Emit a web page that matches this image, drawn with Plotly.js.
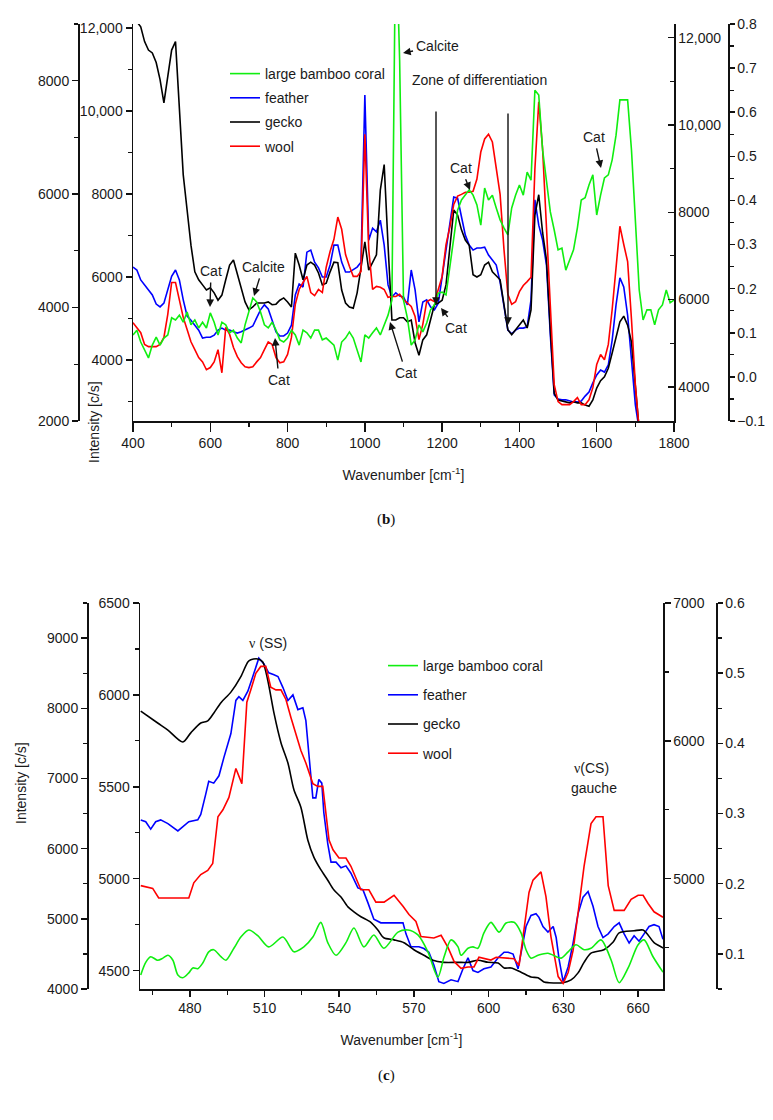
<!DOCTYPE html>
<html>
<head>
<meta charset="utf-8">
<script src="https://cdn.plot.ly/plotly-3.0.1.min.js"></script>
<style>
  body { margin: 0; background: #fff; }
  #chart { width: 773px; height: 1120px; }
</style>
</head>
<body>
<div id="chart"></div>
<script>
// panel (b): full range spectra, one shared wavenumber grid
const wavenumberB = [
  400, 410, 420, 430, 440, 450, 460, 470, 480, 490, 500, 510, 520, 530, 540, 550, 560, 570, 580, 590,
  600, 610, 620, 630, 640, 650, 660, 670, 680, 690, 700, 710, 720, 730, 740, 750, 760, 770, 780, 790,
  800, 810, 820, 830, 840, 850, 860, 870, 880, 890, 900, 910, 920, 930, 940, 950, 960, 970, 980, 990,
  1000, 1010, 1020, 1030, 1040, 1050, 1060, 1070, 1080, 1090, 1100, 1110, 1120, 1130, 1140, 1150, 1160, 1170, 1180, 1190,
  1200, 1210, 1220, 1230, 1240, 1250, 1260, 1270, 1280, 1290, 1300, 1310, 1320, 1330, 1340, 1350, 1360, 1370, 1380, 1390,
  1400, 1410, 1420, 1430, 1440, 1450, 1460, 1470, 1480, 1490, 1500, 1510, 1520, 1530, 1540, 1550, 1560, 1570, 1580, 1590,
  1600, 1610, 1620, 1630, 1640, 1650, 1660, 1670, 1680, 1690, 1700, 1710, 1720, 1730, 1740, 1750, 1760, 1770, 1780, 1790,
  1800
];

const coralB = [
  0.095, 0.106, 0.079, 0.061, 0.043, 0.072, 0.090, 0.072, 0.088, 0.095, 0.134, 0.129, 0.140, 0.124, 0.147, 0.118, 0.129, 0.111, 0.124, 0.111,
  0.145, 0.124, 0.095, 0.124, 0.118, 0.100, 0.106, 0.088, 0.077, 0.118, 0.147, 0.179, 0.170, 0.147, 0.118, 0.111, 0.124, 0.106, 0.084, 0.079,
  0.088, 0.106, 0.095, 0.072, 0.106, 0.100, 0.088, 0.106, 0.106, 0.084, 0.088, 0.079, 0.072, 0.038, 0.079, 0.088, 0.102, 0.088, 0.061, 0.034,
  0.095, 0.088, 0.100, 0.111, 0.095, 0.118, 0.140, 0.174, 1.036, 0.718, 0.174, 0.134, 0.072, 0.084, 0.118, 0.102, 0.122, 0.152, 0.163, 0.190,
  0.192, 0.186, 0.254, 0.322, 0.378, 0.401, 0.412, 0.424, 0.412, 0.390, 0.344, 0.428, 0.401, 0.412, 0.383, 0.356, 0.338, 0.322, 0.383, 0.412,
  0.435, 0.412, 0.464, 0.446, 0.650, 0.639, 0.514, 0.446, 0.374, 0.333, 0.288, 0.292, 0.242, 0.265, 0.288, 0.338, 0.401, 0.406, 0.435, 0.458,
  0.367, 0.412, 0.451, 0.458, 0.492, 0.548, 0.628, 0.628, 0.628, 0.514, 0.344, 0.197, 0.129, 0.152, 0.152, 0.118, 0.152, 0.163, 0.197, 0.168,
  0.174
];

const featherB = [
  6240, 6170, 5930, 5810, 5690, 5570, 5350, 5280, 5370, 5690, 6020, 6170, 5930, 5450, 5060, 4960, 4840, 4720, 4530, 4550,
  4550, 4600, 4720, 4770, 4720, 4720, 4680, 4650, 4680, 4720, 4770, 4820, 5010, 5210, 5330, 5230, 4960, 4680, 4580, 4580,
  4650, 4840, 5570, 5830, 5760, 6600, 6650, 6360, 6220, 6000, 6000, 6290, 6770, 6770, 6360, 6120, 6120, 6170, 6240, 6360,
  10390, 6890, 7180, 7090, 7370, 6770, 5810, 5520, 5620, 5540, 5520, 5330, 6170, 5690, 4920, 5400, 5450, 5280, 5210, 5370,
  6000, 6650, 7250, 7930, 7900, 7490, 7010, 6770, 6650, 6700, 6700, 6720, 6530, 6410, 6290, 5880, 5330, 4720, 4630, 4720,
  4770, 4770, 4800, 5450, 7860, 7250, 6890, 6290, 4600, 3160, 3060, 3040, 3040, 3010, 2990, 2990, 3010, 3130, 3230, 3450,
  3640, 3760, 3710, 3880, 4480, 5330, 5980, 5760, 5080, 4000, 2920, 2310
];

const geckoB = [
  9250, 9040, 8950, 8690, 8540, 8490, 8320, 8020, 7610, 8100, 8540, 8690, 7400, 6340, 5720, 5100, 4630, 4490, 4400, 4310,
  4350, 4260, 4130, 4220, 4490, 4750, 4840, 4580, 4310, 4100, 3960, 4010, 4080, 4080, 4080, 4100, 4050, 4060, 4130, 4170,
  4100, 4010, 4960, 4750, 4490, 4750, 4800, 4750, 4610, 4400, 4430, 4630, 4800, 4790, 4310, 4080, 4010, 3990, 4260, 4700,
  5160, 4660, 4800, 4930, 6070, 6520, 5100, 3780, 3780, 3820, 3820, 3750, 3780, 3380, 3160, 3430, 3520, 3780, 4050, 4080,
  4130, 4400, 5100, 5720, 5630, 5370, 5190, 5100, 4580, 4540, 4580, 4750, 4800, 4630, 4560, 4490, 4050, 3610, 3520, 3610,
  3680, 3780, 3640, 3960, 5630, 5990, 5320, 4840, 3610, 2490, 2370, 2350, 2340, 2320, 2340, 2320, 2320, 2280, 2260, 2370,
  2580, 2710, 2780, 2930, 3200, 3460, 3750, 3850, 3690, 3390, 2640, 1840
];

const woolB = [
  5470, 5360, 5240, 4970, 4920, 4920, 4920, 4970, 5130, 5660, 6390, 6390, 6000, 5590, 5310, 5030, 4850, 4670, 4570, 4390,
  4440, 4570, 4850, 4320, 5360, 5200, 4900, 4690, 4550, 4460, 4440, 4460, 4570, 4670, 4850, 5030, 4970, 4670, 4550, 4570,
  4740, 5130, 5890, 6230, 6390, 6530, 6160, 6090, 6230, 6160, 6740, 7100, 7380, 7890, 7610, 7030, 6760, 6530, 6530, 6640,
  9790, 7150, 6230, 6300, 6280, 6230, 6050, 6070, 6070, 6120, 6000, 5930, 5840, 5610, 5080, 5430, 5950, 6000, 5950, 6230,
  6530, 7260, 7660, 8180, 8370, 8410, 8460, 8460, 8480, 8760, 9380, 9680, 9790, 9610, 9030, 8410, 7150, 6120, 5890, 5950,
  6180, 6320, 6410, 6510, 8990, 10530, 9450, 7720, 6000, 4050, 3660, 3590, 3590, 3590, 3660, 3750, 3590, 3590, 3700, 3980,
  4510, 4740, 4620, 4970, 5770, 6690, 7680, 7260, 6870, 5540, 4050, 3010
];

// panel (c): zoom on the 460-670 region, points read at peaks and valleys
const coralWnC = [
  460.3, 462.3, 464.3, 467.1, 469.2, 471.2, 473.2, 475.2, 477.2, 479.6, 481.2, 483.2, 485.2, 487.6, 489.6, 492.5, 494.5, 497.7, 500.5, 503.7,
  507.3, 511.7, 517.4, 521.8, 525.8, 529.4, 532.6, 535.4, 538.7, 542.7, 545.9, 549.9, 553.9, 557.9, 563.6, 567.6, 571.6, 575.6, 579.6, 582.1,
  584.9, 587.7, 588.9, 591.7, 593.7, 595.7, 598.1, 600.9, 604.2, 607, 610.2, 613, 615, 617, 619.8, 623.8, 629.1, 631.9, 635.1, 638.3,
  641.1, 645.1, 649.2, 652.4, 656, 660, 662.4, 666, 670
];
const coralC = [
  0.070, 0.088, 0.096, 0.091, 0.094, 0.098, 0.091, 0.070, 0.066, 0.073, 0.080, 0.079, 0.087, 0.103, 0.106, 0.096, 0.091, 0.108, 0.124, 0.134,
  0.126, 0.110, 0.124, 0.103, 0.110, 0.124, 0.145, 0.116, 0.098, 0.116, 0.137, 0.110, 0.127, 0.108, 0.131, 0.134, 0.127, 0.103, 0.067, 0.096,
  0.120, 0.110, 0.098, 0.108, 0.110, 0.108, 0.130, 0.145, 0.131, 0.144, 0.145, 0.130, 0.106, 0.094, 0.098, 0.101, 0.094, 0.103, 0.113, 0.106,
  0.108, 0.120, 0.091, 0.059, 0.080, 0.113, 0.120, 0.096, 0.074
];

const featherWnC = [
  460.3, 462.3, 464.3, 466.3, 468.3, 471.2, 475.2, 477.6, 479.6, 483.2, 484.4, 486.4, 487.6, 489.6, 491.7, 493.7, 496.5, 498.5, 499.7, 501.3,
  503.3, 505.3, 507.7, 509.7, 511.7, 513.8, 515.4, 517.4, 519.4, 521.4, 523.4, 525.4, 526.6, 527.8, 529.4, 530.6, 531.8, 533, 533.8, 535.4,
  536.7, 538.7, 540.7, 542.7, 544.7, 547.5, 549.5, 551.5, 553.9, 556.7, 560.8, 565.6, 566.8, 568.8, 572, 574, 576, 578, 580, 582,
  584.9, 587.7, 589.7, 591.7, 593.7, 595.7, 598.1, 600.9, 603.8, 606.2, 607.8, 609.8, 611.8, 613, 615, 617, 619, 620.2, 621.8, 623.8,
  625.9, 627.1, 628.3, 629.9, 631.9, 633.9, 635.9, 637.9, 639.9, 641.9, 643.9, 645.9, 648, 650.4, 652.4, 654.4, 656.4, 658.4, 660.4, 662.4,
  664.4, 666.4, 668.4, 670
];
const featherC = [
  5320, 5310, 5270, 5310, 5320, 5300, 5260, 5290, 5310, 5320, 5350, 5460, 5530, 5520, 5560, 5660, 5790, 5970, 5990, 5970,
  6020, 6100, 6200, 6170, 6120, 6110, 6100, 6040, 5970, 6000, 5920, 5930, 5860, 5680, 5440, 5440, 5540, 5520, 5360, 5190,
  5090, 5090, 5060, 5070, 5030, 4950, 4940, 4870, 4780, 4760, 4760, 4760, 4700, 4630, 4630, 4620, 4600, 4530, 4440, 4430,
  4450, 4440, 4510, 4570, 4500, 4490, 4510, 4520, 4570, 4600, 4600, 4590, 4510, 4590, 4740, 4800, 4810, 4790, 4740, 4710,
  4740, 4680, 4560, 4440, 4520, 4650, 4810, 4900, 4930, 4850, 4740, 4680, 4700, 4740, 4760, 4700, 4650, 4690, 4660, 4700,
  4740, 4750, 4740, 4670
];

const geckoWnC = [
  460.3, 467.1, 471.2, 477.2, 480.4, 484.4, 487.2, 489.6, 492.5, 496.5, 500.5, 503.3, 504.5, 507.7, 509.3, 511.3, 513.8, 516.6, 519.4, 521.8,
  524.6, 527.4, 529.8, 532.6, 535.4, 537.9, 540.7, 543.5, 545.9, 548.7, 552.7, 555.5, 557.9, 562, 566, 570, 574, 577.6, 582, 587.7,
  591.7, 595.7, 599.7, 603.8, 606.2, 609, 613, 617, 619.8, 622.2, 624.2, 629.9, 633.1, 635.9, 638.3, 641.1, 646.3, 650, 652.4, 658.4,
  662, 664, 666.4, 670.4
];
const geckoC = [
  7960, 7790, 7690, 7520, 7650, 7790, 7820, 7930, 8080, 8230, 8450, 8660, 8690, 8700, 8660, 8400, 7930, 7510, 7220, 6840,
  6590, 6120, 5880, 5700, 5550, 5410, 5310, 5170, 5100, 5030, 4950, 4840, 4730, 4700, 4660, 4560, 4480, 4410, 4380, 4380,
  4380, 4410, 4380, 4370, 4300, 4300, 4240, 4170, 4160, 4100, 4090, 4090, 4130, 4230, 4380, 4510, 4560, 4670, 4800, 4830,
  4840, 4770, 4660, 4580
];

const woolWnC = [
  460.3, 462.3, 465.1, 467.5, 471.2, 479.6, 481.6, 484.4, 487.2, 489.2, 491.3, 493.3, 495.7, 498.5, 500.9, 502.9, 504.5, 506.5, 508.5, 510.5,
  512.5, 514.6, 516.6, 518.6, 520.6, 523.4, 524.6, 526.6, 529.4, 531.4, 533.4, 535.9, 537.5, 539.9, 542.7, 544.7, 548.7, 551.9, 554.7, 558,
  562, 565.6, 568, 570.8, 572.8, 578, 580.9, 583.7, 586.1, 588.9, 591.7, 594.1, 596.1, 600.9, 603, 610.2, 612.2, 613.8, 616.2, 617.8,
  619.8, 621, 623, 625, 627.9, 629.9, 631.9, 633.9, 635.9, 638.3, 641.1, 643.1, 645.9, 648, 650.4, 654.4, 657.2, 660, 662, 664,
  666.4, 670
];
const woolC = [
  4950, 4940, 4930, 4860, 4860, 4860, 4970, 5030, 5060, 5110, 5450, 5500, 5590, 5800, 5690, 6280, 6370, 6490, 6540, 6540,
  6390, 6370, 6370, 6300, 6170, 6010, 5930, 5840, 5690, 5670, 5670, 5280, 5210, 5150, 5150, 5090, 4920, 4920, 4830, 4830,
  4880, 4800, 4740, 4690, 4580, 4570, 4590, 4500, 4400, 4350, 4360, 4360, 4430, 4410, 4430, 4420, 4370, 4580, 4900, 4990,
  5030, 5050, 4870, 4580, 4290, 4240, 4320, 4480, 4750, 5090, 5400, 5450, 5450, 4950, 4770, 4770, 4850, 4880, 4880, 4820,
  4760, 4720
];

const seriesNames = ['large bamboo coral', 'feather', 'gecko', 'wool'];
const seriesColors = ['#10ee10', '#0000ff', '#000000', '#ff0000'];

const W = 773, H = 1120;
const px = v => v / W;
const py = v => 1 - v / H;

function lineTrace(i, x, y, xaxis, yaxis, legend, shape) {
  return {
    type: 'scatter', mode: 'lines', x: x, y: y, xaxis: xaxis, yaxis: yaxis,
    name: seriesNames[i], legend: legend, legendgroup: legend + i,
    line: { color: seriesColors[i], width: 1.6, shape: shape || 'linear', smoothing: 0.8 },
    hoverinfo: 'skip'
  };
}

const traces = [
  lineTrace(0, wavenumberB, coralB, 'x', 'y4', 'legend'),
  lineTrace(1, wavenumberB, featherB, 'x', 'y', 'legend'),
  lineTrace(2, wavenumberB, geckoB, 'x', 'y2', 'legend'),
  lineTrace(3, wavenumberB, woolB, 'x', 'y3', 'legend'),
  lineTrace(0, coralWnC, coralC, 'x2', 'y8', 'legend2', 'spline'),
  lineTrace(1, featherWnC, featherC, 'x2', 'y5', 'legend2'),
  lineTrace(2, geckoWnC, geckoC, 'x2', 'y6', 'legend2', 'spline'),
  lineTrace(3, woolWnC, woolC, 'x2', 'y7', 'legend2')
];

const base = {
  showline: true, linecolor: '#111', linewidth: 1.5, showgrid: false, zeroline: false,
  ticks: 'outside', ticklen: 6, tickwidth: 1.5, tickcolor: '#111',
  tickfont: { size: 14, color: '#1a1a1a' }
};
const minor = (tick0, dtick, ticks) => ({ tick0: tick0, dtick: dtick, ticks: ticks || 'outside', ticklen: 4, tickwidth: 1.2, tickcolor: '#111' });

const domB = [py(421), py(24)];
const domC = [py(989), py(603)];
const bigVals = [4000, 6000, 8000, 10000, 12000];
const bigText = ['4000', '6000', '8000', '10,000', '12,000'];
const xTitle = { text: 'Wavenumber [cm<sup>-1</sup>]', font: { size: 14 }, standoff: 20 };

const layout = {
  width: W, height: H,
  margin: { l: 0, r: 0, t: 0, b: 0 },
  paper_bgcolor: '#fff', plot_bgcolor: 'rgba(0,0,0,0)',
  font: { family: 'Liberation Sans, Arial, sans-serif', size: 14, color: '#1a1a1a' },
  showlegend: true,

  xaxis: Object.assign({}, base, {
    domain: [px(133), px(674)], anchor: 'y', range: [400, 1800], ticklen: 9,
    tick0: 400, dtick: 200, minor: minor(500, 200), title: xTitle
  }),
  yaxis: Object.assign({}, base, {
    domain: domB, anchor: 'x', range: [2530, 12100],
    tickmode: 'array', tickvals: bigVals, ticktext: bigText, minor: minor(3000, 2000)
  }),
  yaxis2: Object.assign({}, base, {
    overlaying: 'y', anchor: 'free', position: px(78), side: 'left', range: [2000, 9000],
    tick0: 2000, dtick: 2000, minor: minor(3000, 2000)
  }),
  yaxis3: Object.assign({}, base, {
    overlaying: 'y', anchor: 'x', side: 'right', range: [3215, 12315], ticks: 'inside',
    tickmode: 'array', tickvals: bigVals, ticktext: bigText, minor: minor(5000, 2000, 'inside')
  }),
  yaxis4: Object.assign({}, base, {
    overlaying: 'y', anchor: 'free', position: px(728), side: 'right', range: [-0.1, 0.8],
    tick0: 0, dtick: 0.1, tickformat: '.1f', ticklen: 5, minor: minor(0.05, 0.1)
  }),

  xaxis2: Object.assign({}, base, {
    domain: [px(140), px(663)], anchor: 'y5', range: [460, 670],
    tick0: 480, dtick: 30, minor: minor(465, 30), title: xTitle
  }),
  yaxis5: Object.assign({}, base, {
    domain: domC, anchor: 'x2', range: [4400, 6500],
    tick0: 4500, dtick: 500, minor: minor(4750, 500)
  }),
  yaxis6: Object.assign({}, base, {
    overlaying: 'y5', anchor: 'free', position: px(87), side: 'left', range: [4000, 9500],
    tick0: 4000, dtick: 1000, minor: minor(4500, 1000)
  }),
  yaxis7: Object.assign({}, base, {
    overlaying: 'y5', anchor: 'x2', side: 'right', range: [4200, 7000],
    tick0: 5000, dtick: 1000, minor: minor(4500, 1000)
  }),
  yaxis8: Object.assign({}, base, {
    overlaying: 'y5', anchor: 'free', position: px(716), side: 'right', range: [0.05, 0.6],
    tick0: 0.1, dtick: 0.1, tickformat: '.1f', ticklen: 5, minor: minor(0.05, 0.1)
  }),

  legend: {
    x: px(225), y: py(58), xanchor: 'left', yanchor: 'top',
    bgcolor: 'rgba(0,0,0,0)', font: { size: 14 }, tracegroupgap: 3
  },
  legend2: {
    x: px(383), y: py(650), xanchor: 'left', yanchor: 'top',
    bgcolor: 'rgba(0,0,0,0)', font: { size: 14 }, tracegroupgap: 8
  },

  annotations: []
};

// labels and arrows, placed in page pixels
function note(text, x, y, extra) {
  layout.annotations.push(Object.assign({
    xref: 'paper', yref: 'paper', x: px(x), y: py(y), text: text,
    showarrow: false, xanchor: 'center', yanchor: 'middle', font: { size: 14, color: '#1a1a1a' }
  }, extra || {}));
}
function arrow(text, tipX, tipY, ax, ay) {
  note(text, tipX, tipY, {
    showarrow: true, ax: ax, ay: ay, arrowhead: 2, arrowsize: 1.1, arrowwidth: 1.4,
    arrowcolor: '#111', standoff: 0, startstandoff: 2
  });
}

// panel (b)
arrow('Calcite', 403, 53, 35, -7);
note('Zone of differentiation', 480, 80);
arrow(' ', 436, 305, 0, -205);
arrow(' ', 508, 325, 0, -223);
arrow('Cat', 210, 307, 1, -36);
arrow('Calcite', 254, 296, 9, -29);
arrow('Cat', 275, 338, 4, 42);
arrow('Cat', 390, 322, 16, 51);
arrow('Cat', 441, 308, 15, 20);
arrow('Cat', 470, 190, -9, -22);
arrow('Cat', 601, 168, -7, -31);
note('Intensity [c/s]', 94, 422, { textangle: -90 });
note('(<b>b</b>)', 386, 519, { font: { size: 15, family: 'Liberation Serif, serif', color: '#111' } });

// panel (c)
note('<span style="font-family:Liberation Serif">ν</span> (SS)', 268, 643);
note('<span style="font-family:Liberation Serif">ν</span>(CS)', 591, 768);
note('gauche', 594, 788);
note('Intensity [c/s]', 21, 783, { textangle: -90 });
note('(<b>c</b>)', 386, 1075, { font: { size: 15, family: 'Liberation Serif, serif', color: '#111' } });

Plotly.newPlot('chart', traces, layout, { staticPlot: true, displayModeBar: false });
</script>
</body>
</html>
